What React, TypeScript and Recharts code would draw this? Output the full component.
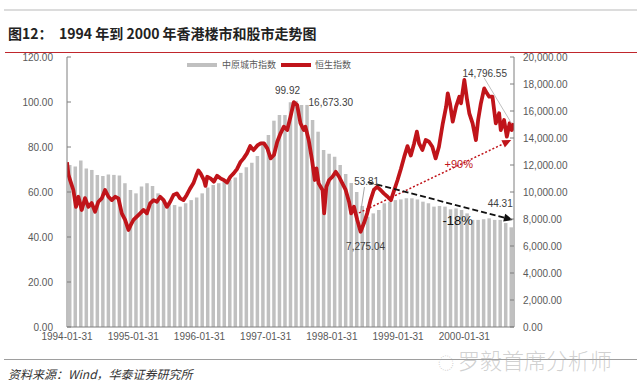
import React from 'react';
import { ComposedChart, Bar, Line, XAxis, YAxis, ReferenceLine, ReferenceDot } from 'recharts';

// 中原城市指数 (monthly, 1994-01 .. 2000-09)
const cclIndex = [
  72, 71.3, 74, 70.5, 69.8, 67.6, 67.1, 67.8, 67.6, 67.3, 63.9, 60.9,
  59.4, 62.4, 63.9, 62.7, 59.4, 56.4, 55, 54.2, 53.5, 55, 56.4, 57.6,
  59.4, 62, 63.1, 63.9, 64.6, 65.3, 66.5, 68.5, 71, 73, 76, 82.4,
  85.3, 91.7, 94.2, 94.2, 99.92, 100.5, 98.7, 98.7, 92, 86.8, 78.7, 77,
  75.7, 72, 68, 64, 60, 53.81, 49, 50.5, 52, 55, 55.7, 56.4,
  56.7, 57.2, 57.2, 56.7, 55.7, 55, 53.5, 53.8, 53.5, 52.3, 52.7, 52,
  50.5, 47.6, 47.6, 47.9, 48.3, 47.6, 47.6, 46.2, 44.31,
];

// 恒生指数: position in months from 1994-01 and level
const hsiMonth = [
  0, 0.25, 0.55, 1.15, 1.63, 2.06, 2.67, 3.27, 3.87, 4.48, 5.09, 5.69, 6.3, 6.9, 7.51, 8.12, 8.72, 9.32, 9.93,
  10.53, 11.14, 11.56, 12.05, 12.65, 13.26, 13.86, 14.47, 15.07, 15.68, 16.29, 16.89, 17.5, 18.1, 18.7, 19.3,
  19.9, 20.5, 21.1, 21.7, 22.3, 22.9, 23.4, 23.8, 24.2, 24.8, 25.1, 25.4, 26, 26.6, 27.2, 27.8, 28.4, 29,
  29.6, 30.2, 30.8, 31.4, 32, 32.6, 33.2, 33.8, 34.5, 35.1, 35.7, 36.3, 36.9, 37.5, 38.1, 38.7, 39.3, 39.9,
  40.5, 41.1, 41.7, 42.3, 42.9, 43.2, 43.8, 44.4, 44.9, 45.2, 45.6, 46.3, 46.6, 47, 47.5, 48.1, 48.7, 49.3,
  49.9, 50.5, 51.1, 51.5, 52, 52.6, 53.2, 53.8, 54.4, 55, 55.6, 56.2, 56.8, 57.4, 58.1, 58.7, 59.3, 59.9,
  60.5, 61.1, 61.7, 62.3, 62.9, 63.4, 63.8, 64.4, 65, 65.6, 66.2, 66.8, 67.4, 68.1, 68.7, 69, 69.4, 69.9,
  70.5, 71.1, 71.4, 72, 72.5, 72.9, 73.5, 74.1, 74.5, 75, 75.6, 76.1, 76.5, 77.1, 77.7, 78.3, 78.6, 79.2,
  79.7, 80.2, 80.6, 81,
];
const hsiValue = [
  12200, 11300, 10900, 10150, 8900, 9650, 8670, 9550, 8900, 9180, 8540, 9280, 9530, 10150, 9650, 9400, 9650, 9530, 8420,
  7930, 7190, 7560, 7930, 8170, 8420, 8670, 8420, 9160, 9400, 9280, 9650, 9400, 8900, 9280, 9780,
  9900, 9530, 9400, 9780, 10250, 10640, 11200, 11600, 11380, 10900, 10450, 11130, 11010, 10760, 11200, 11010, 10890, 10700,
  11130, 11380, 11700, 12200, 12490, 12860, 13400, 13100, 13450, 13600, 13600, 13230, 12490, 12740, 13720, 14350, 14840, 14590,
  15580, 16650, 16450, 15090, 14590, 14840, 13850, 12370, 10890, 11750, 10640, 10150, 8420, 10390, 10890, 11130, 11500, 11130,
  10640, 10150, 9280, 8420, 8910, 7930, 7060, 7680, 8420, 9400, 10150, 10390, 10150, 9900, 9650, 9400, 10150, 10890,
  11700, 12600, 13400, 12700, 13600, 14470, 13600, 13110, 13850, 13720, 13350, 12490, 13350, 15090, 16320, 17310, 16570, 15210,
  16320, 17060, 16570, 18300, 16820, 15830, 15090, 13850, 15330, 16570, 17670, 17310, 17060, 17060, 15090, 15830, 14590, 15330,
  14100, 15090, 14590, 15090,
];

const leftTicks = [0, 20, 40, 60, 80, 100, 120];
const rightTicks = [0, 2000, 4000, 6000, 8000, 10000, 12000, 14000, 16000, 18000, 20000];
const xTickMonths = [0, 12, 24, 36, 48, 60, 72];
const xTickLabels = ['1994-01-31', '1995-01-31', '1996-01-31', '1997-01-31', '1998-01-31', '1999-01-31', '2000-01-31'];

const barData = cclIndex.map((v, i) => ({ i, ccl: v }));
const lineData = hsiMonth.map((m, i) => ({ m, hsi: hsiValue[i] }));

const FONT = "'Liberation Sans', Arial, sans-serif";
const CJK = "'Noto Sans CJK SC', 'Noto Sans', sans-serif";
const AXIS = '#7f7f7f';
const TXT = '#595959';
const RED = '#c0141a';

const LeftTick = (p: any) => (
  <g>
    <line x1={p.x + 14} x2={p.x + 18} y1={p.y} y2={p.y} stroke={AXIS} />
    <text x={p.x} y={p.y} dy={3.5} textAnchor="end" fill={TXT} fontSize={10} fontFamily={FONT}>
      {Number(p.payload.value).toFixed(2)}
    </text>
  </g>
);

const fmtR = (v: number) => v.toLocaleString('en-US', { minimumFractionDigits: 2, maximumFractionDigits: 2 });

const RightTick = (p: any) => (
  <g>
    <line x1={p.x - 9} x2={p.x - 13} y1={p.y} y2={p.y} stroke={AXIS} />
    <text x={p.x} y={p.y} dy={3.5} textAnchor="start" fill={TXT} fontSize={10} fontFamily={FONT}>
      {fmtR(Number(p.payload.value))}
    </text>
  </g>
);

const XTick = (p: any) => {
  const idx = xTickMonths.indexOf(p.payload.value);
  return (
    <text x={p.x} y={p.y} dy={11} textAnchor="middle" fill={TXT} fontSize={10} fontFamily={FONT}>
      {idx >= 0 ? xTickLabels[idx] : ''}
    </text>
  );
};

const arrowShape = (color: string, dash: string, width: number, head: boolean) => (props: any) => {
  const { x1, y1, x2, y2 } = props;
  if ([x1, y1, x2, y2].some((v) => typeof v !== 'number' || isNaN(v))) return <g />;
  if (!head) {
    return <line x1={x1} y1={y1} x2={x2} y2={y2} stroke={color} strokeWidth={width} strokeDasharray={dash} />;
  }
  const ang = Math.atan2(y2 - y1, x2 - x1);
  const L = 9;
  const W = 4;
  const bx = x2 - L * Math.cos(ang);
  const by = y2 - L * Math.sin(ang);
  const pts = `${x2},${y2} ${bx - W * Math.sin(ang)},${by + W * Math.cos(ang)} ${bx + W * Math.sin(ang)},${by - W * Math.cos(ang)}`;
  return (
    <g>
      <line x1={x1} y1={y1} x2={bx} y2={by} stroke={color} strokeWidth={width} strokeDasharray={dash} />
      <polygon points={pts} fill={color} />
    </g>
  );
};

const labels = [
  { x: 39.96, y: 105.3, text: '99.92', color: '#404040', size: 10 },
  { x: 47.8, y: 99.6, text: '16,673.30', color: '#404040', size: 10 },
  { x: 54.3, y: 64.9, text: '53.81', color: '#404040', size: 10 },
  { x: 54.1, y: 36, text: '7,275.04', color: '#404040', size: 10 },
  { x: 70.8, y: 47.6, text: '-18%', color: '#111111', size: 13 },
  { x: 78.5, y: 55.1, text: '44.31', color: '#404040', size: 10 },
  { x: 71.0, y: 72.4, text: '+90%', color: RED, size: 11 },
  { x: 75.7, y: 112.9, text: '14,796.55', color: '#404040', size: 10 },
];

export default function App() {
  return (
    <div style={{ position: 'absolute', left: 0, top: 0, width: 640, height: 383, background: '#fff', overflow: 'hidden' }}>
      <div style={{ position: 'absolute', left: 4, top: 9, width: 633, height: 2, background: '#dcdcdc' }} />
      <div style={{ position: 'absolute', left: 8, top: 24, fontFamily: CJK, fontWeight: 700, fontSize: 14, lineHeight: '18px', color: '#222', whiteSpace: 'nowrap' }}>
        图12：
      </div>
      <div style={{ position: 'absolute', left: 59, top: 24, fontFamily: CJK, fontWeight: 700, fontSize: 14, lineHeight: '18px', color: '#222', whiteSpace: 'nowrap' }}>
        1994 年到 2000 年香港楼市和股市走势图
      </div>
      <div style={{ position: 'absolute', left: 5, top: 52, width: 632, height: 1, background: '#c0262c' }} />

      <div style={{ position: 'absolute', left: 0, top: 0 }}>
        <ComposedChart width={640} height={383} data={barData} margin={{ top: 57, right: 56, bottom: 36, left: 7 }}>
          <XAxis
            xAxisId="l"
            dataKey="m"
            type="number"
            domain={[0, 81]}
            ticks={xTickMonths}
            interval={0}
            tick={<XTick />}
            tickLine={false}
            tickSize={0}
            tickMargin={2}
            axisLine={{ stroke: AXIS }}
            height={20}
            allowDataOverflow
          />
          <XAxis xAxisId="b" dataKey="i" type="category" hide height={0} />
          <YAxis
            yAxisId="left"
            orientation="left"
            domain={[0, 120]}
            ticks={leftTicks}
            interval={0}
            width={60}
            tick={<LeftTick />}
            tickLine={false}
            tickSize={0}
            tickMargin={14}
            axisLine={{ stroke: AXIS }}
          />
          <YAxis
            yAxisId="right"
            orientation="right"
            domain={[0, 20000]}
            ticks={rightTicks}
            interval={0}
            width={70}
            tick={<RightTick />}
            tickLine={false}
            tickSize={0}
            tickMargin={9}
            axisLine={{ stroke: AXIS }}
          />
          <Bar xAxisId="b" yAxisId="left" dataKey="ccl" fill="#c0c0c0" barSize={3.5} isAnimationActive={false} />
          <Line
            xAxisId="l"
            yAxisId="right"
            data={lineData}
            dataKey="hsi"
            type="linear"
            stroke={RED}
            strokeWidth={3.8}
            strokeLinejoin="round"
            dot={false}
            activeDot={false}
            isAnimationActive={false}
          />
          <ReferenceLine xAxisId="l" yAxisId="left" ifOverflow="visible"
            segment={[{ x: 53.9, y: 62.2 }, { x: 53.2, y: 50.7 }]}
            shape={arrowShape('#a6a6a6', '', 1, false)} />
          <ReferenceLine xAxisId="l" yAxisId="left" ifOverflow="visible"
            segment={[{ x: 75.6, y: 110.7 }, { x: 80.5, y: 90.7 }]}
            shape={arrowShape('#bfbfbf', '', 1, false)} />
          <ReferenceLine xAxisId="l" yAxisId="left" ifOverflow="visible"
            segment={[{ x: 52.9, y: 50.7 }, { x: 80.5, y: 83.1 }]}
            shape={arrowShape(RED, '2 2', 1.5, true)} />
          <ReferenceLine xAxisId="l" yAxisId="left" ifOverflow="visible"
            segment={[{ x: 54.5, y: 64.4 }, { x: 80.8, y: 47.6 }]}
            shape={arrowShape('#111111', '6 3', 1.8, true)} />
          {labels.map((l) => (
            <ReferenceDot
              key={l.text}
              xAxisId="l"
              yAxisId="left"
              x={l.x}
              y={l.y}
              r={0}
              fill="none"
              stroke="none"
              ifOverflow="visible"
              label={{ value: l.text, position: 'center', fill: l.color, fontSize: l.size, fontFamily: FONT }}
            />
          ))}
        </ComposedChart>
      </div>

      {/* legend */}
      <div style={{ position: 'absolute', left: 187, top: 63, width: 30, height: 4, background: '#c0c0c0' }} />
      <div style={{ position: 'absolute', left: 222, top: 59, fontFamily: CJK, fontSize: 9, lineHeight: '12px', color: TXT, whiteSpace: 'nowrap' }}>
        中原城市指数
      </div>
      <div style={{ position: 'absolute', left: 281, top: 63, width: 30, height: 4, background: RED }} />
      <div style={{ position: 'absolute', left: 315, top: 59, fontFamily: CJK, fontSize: 9, lineHeight: '12px', color: TXT, whiteSpace: 'nowrap' }}>
        恒生指数
      </div>

      {/* footer */}
      <div style={{ position: 'absolute', left: 4, top: 359, width: 633, height: 1, background: '#9e9e9e' }} />
      <div style={{ position: 'absolute', left: 8, top: 366, fontFamily: CJK, fontStyle: 'italic', fontSize: 12, lineHeight: '15px', color: '#333', whiteSpace: 'nowrap' }}>
        资料来源：Wind，华泰证券研究所
      </div>
      <div style={{ position: 'absolute', left: 438, top: 346, fontFamily: CJK, fontSize: 22, lineHeight: '26px', color: 'rgba(170,170,170,0.55)', whiteSpace: 'nowrap', fontWeight: 300 }}>
        <span style={{ fontSize: 16, marginRight: 4 }}>◌</span>罗毅首席分析师
      </div>
    </div>
  );
}
